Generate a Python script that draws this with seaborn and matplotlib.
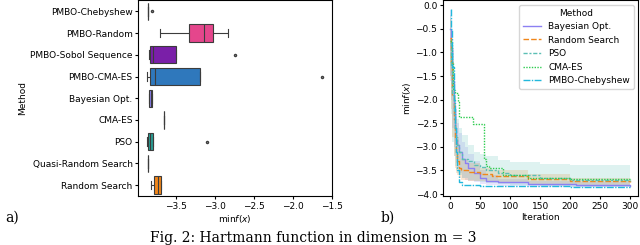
import numpy as np
import pandas as pd
import seaborn as sns
import matplotlib
matplotlib.use("Agg")
import matplotlib.pyplot as plt

# --- left panel: final min f(x) per run, one list per method ---
methods = ["PMBO-Chebyshew", "PMBO-Random", "PMBO-Sobol Sequence", "PMBO-CMA-ES",
           "Bayesian Opt.", "CMA-ES", "PSO", "Quasi-Random Search", "Random Search"]
runs = {
    "PMBO-Chebyshew": [-3.862, -3.862, -3.862, -3.862, -3.862, -3.862, -3.862, -3.862, -3.81],
    "PMBO-Random": [-3.71, -3.50, -3.34, -3.22, -3.15, -3.08, -3.03, -2.95, -2.84],
    "PMBO-Sobol Sequence": [-3.855, -3.85, -3.84, -3.82, -3.80, -3.62, -3.50, -3.50, -2.74],
    "PMBO-CMA-ES": [-3.875, -3.86, -3.84, -3.80, -3.77, -3.50, -3.20, -3.20, -1.63],
    "Bayesian Opt.": [-3.855, -3.85, -3.85, -3.84, -3.83, -3.82, -3.81, -3.81, -3.805],
    "CMA-ES": [-3.66, -3.66, -3.66, -3.66, -3.66, -3.66, -3.66, -3.66, -3.66],
    "PSO": [-3.875, -3.87, -3.86, -3.85, -3.84, -3.82, -3.80, -3.80, -3.11],
    "Quasi-Random Search": [-3.86, -3.86, -3.86, -3.86, -3.86, -3.86, -3.86, -3.86, -3.86],
    "Random Search": [-3.83, -3.81, -3.79, -3.76, -3.73, -3.71, -3.70, -3.70, -3.70],
}

colors = {
    "PMBO-Chebyshew": "#22b8dc",
    "PMBO-Random": "#e5468c",
    "PMBO-Sobol Sequence": "#7a1fa8",
    "PMBO-CMA-ES": "#2f78bc",
    "Bayesian Opt.": "#8c80f2",
    "CMA-ES": "#3ccf5a",
    "PSO": "#2a9d94",
    "Quasi-Random Search": "#9a9a9a",
    "Random Search": "#f0861a",
}

# --- right panel: convergence curves (step breakpoints) ---
line_methods = ["Bayesian Opt.", "Random Search", "PSO", "CMA-ES", "PMBO-Chebyshew"]

bo_it = [0, 2, 4, 6, 8, 10, 12, 15, 20, 25, 30, 40, 50, 60, 80, 130, 210, 299]
bo_mean = [-0.5, -0.9, -1.6, -2.2, -2.6, -2.85, -2.95, -3.1, -3.25, -3.35, -3.45, -3.55, -3.65, -3.72, -3.75, -3.78, -3.80, -3.83]
bo_lo = [-1.5, -2.0, -2.6, -3.0, -3.2, -3.35, -3.45, -3.55, -3.65, -3.70, -3.72, -3.75, -3.78, -3.80, -3.82, -3.84, -3.85, -3.86]
bo_hi = [-0.1, -0.3, -0.9, -1.5, -2.0, -2.3, -2.5, -2.7, -2.9, -3.0, -3.15, -3.3, -3.5, -3.6, -3.68, -3.72, -3.75, -3.80]

rs_it = [0, 2, 4, 6, 8, 10, 12, 15, 18, 30, 50, 70, 130, 200, 299]
rs_mean = [-0.7, -1.2, -1.9, -2.4, -2.8, -3.1, -3.3, -3.45, -3.50, -3.53, -3.58, -3.62, -3.68, -3.72, -3.74]
rs_lo = [-1.5, -2.2, -2.8, -3.2, -3.45, -3.55, -3.6, -3.65, -3.70, -3.72, -3.73, -3.75, -3.78, -3.80, -3.80]
rs_hi = [-0.3, -0.6, -1.2, -1.7, -2.1, -2.5, -2.8, -3.1, -3.25, -3.35, -3.45, -3.50, -3.58, -3.65, -3.68]

pso_it = [0, 2, 4, 6, 8, 10, 12, 15, 20, 30, 40, 50, 60, 80, 100, 150, 200, 299]
pso_mean = [-0.8, -1.3, -1.9, -2.3, -2.6, -2.8, -2.95, -3.1, -3.25, -3.3, -3.38, -3.42, -3.48, -3.55, -3.6, -3.66, -3.70, -3.72]
pso_lo = [-1.6, -2.3, -2.9, -3.2, -3.4, -3.5, -3.55, -3.6, -3.65, -3.7, -3.72, -3.74, -3.76, -3.78, -3.8, -3.82, -3.84, -3.86]
pso_hi = [-0.2, -0.5, -1.0, -1.5, -1.9, -2.2, -2.4, -2.6, -2.75, -2.95, -3.1, -3.15, -3.2, -3.28, -3.32, -3.36, -3.38, -3.40]

cma_it = [0, 3, 5, 8, 13, 15, 38, 57, 60, 65, 88, 130, 200, 299]
cma_mean = [-0.75, -1.2, -1.8, -1.85, -2.05, -2.37, -2.52, -3.25, -3.40, -3.45, -3.60, -3.65, -3.68, -3.70]

ch_it = [1, 2, 4, 6, 8, 10, 12, 15, 20, 50, 100, 200, 299]
ch_mean = [-0.08, -0.5, -1.3, -2.0, -2.6, -3.1, -3.5, -3.75, -3.80, -3.82, -3.83, -3.84, -3.85]

curves = {
    "Bayesian Opt.": (bo_it, bo_mean, bo_lo, bo_hi),
    "Random Search": (rs_it, rs_mean, rs_lo, rs_hi),
    "PSO": (pso_it, pso_mean, pso_lo, pso_hi),
    "CMA-ES": (cma_it, cma_mean, None, None),
    "PMBO-Chebyshew": (ch_it, ch_mean, None, None),
}
line_colors = {
    "Bayesian Opt.": "#8c80f2",
    "Random Search": "#f0861a",
    "PSO": "#5cbfb5",
    "CMA-ES": "#2ecc50",
    "PMBO-Chebyshew": "#22b8dc",
}
dashes = {
    "Bayesian Opt.": "",
    "Random Search": (4, 1.5),
    "PSO": (3, 1.25, 1.5, 1.25),
    "CMA-ES": (1, 1),
    "PMBO-Chebyshew": (5, 1, 1, 1),
}

plt.rcParams["font.family"] = ["DejaVu Sans"]
plt.rcParams["font.size"] = 6.5
for a in ("xtick", "ytick"):
    plt.rcParams[f"{a}.major.size"] = 2.5
    plt.rcParams[f"{a}.major.pad"] = 1.5
plt.rcParams["axes.labelpad"] = 2

fig = plt.figure(figsize=(6.4, 2.45), dpi=100)
ax1 = fig.add_axes([0.216, 0.2, 0.303, 0.798])
ax2 = fig.add_axes([0.692, 0.2, 0.305, 0.798])

# boxplot
box_df = pd.DataFrame([(m, v) for m in methods for v in runs[m]], columns=["Method", "value"])
sns.boxplot(data=box_df, x="value", y="Method", hue="Method", order=methods, hue_order=methods,
            palette=colors, saturation=1, legend=False, width=0.8, fliersize=1.5,
            linewidth=0.8, ax=ax1)
ax1.set_xlabel(r"min$f(x)$")
ax1.set_ylabel("Method")
ax1.set_xticks([-3.5, -3.0, -2.5, -2.0, -1.5])

# convergence lines
line_df = pd.concat([pd.DataFrame({"Iteration": curves[m][0], "val": curves[m][1], "Method": m})
                     for m in line_methods], ignore_index=True)
for m in line_methods:
    it, mean, lo, hi = curves[m]
    if lo is not None:
        ax2.fill_between(it, lo, hi, step="post", color=line_colors[m], alpha=0.2, lw=0)
sns.lineplot(data=line_df, x="Iteration", y="val", hue="Method", style="Method",
             hue_order=line_methods, style_order=line_methods, palette=line_colors,
             dashes=dashes, drawstyle="steps-post", linewidth=1, errorbar=None,
             estimator=None, ax=ax2)
ax2.set_ylabel(r"min$f(x)$")
ax2.set_xlabel("Iteration")
ax2.set_xticks([0, 50, 100, 150, 200, 250, 300])
ax2.set_yticks([0.0, -0.5, -1.0, -1.5, -2.0, -2.5, -3.0, -3.5, -4.0])
ax2.set_ylim(-4.04, 0.1)
ax2.set_xlim(-12, 313)
ax2.legend(title="Method", loc="upper right", fontsize=6.5, title_fontsize=6.5)

fig.text(0.019, 0.11, "a)", family="DejaVu Serif", fontsize=10, ha="center", va="center")
fig.text(0.606, 0.11, "b)", family="DejaVu Serif", fontsize=10, ha="center", va="center")
fig.text(0.49, 0.03, "Fig. 2: Hartmann function in dimension m = 3",
         family="DejaVu Serif", fontsize=10, ha="center", va="center")

fig.savefig("out.png", dpi=100)
